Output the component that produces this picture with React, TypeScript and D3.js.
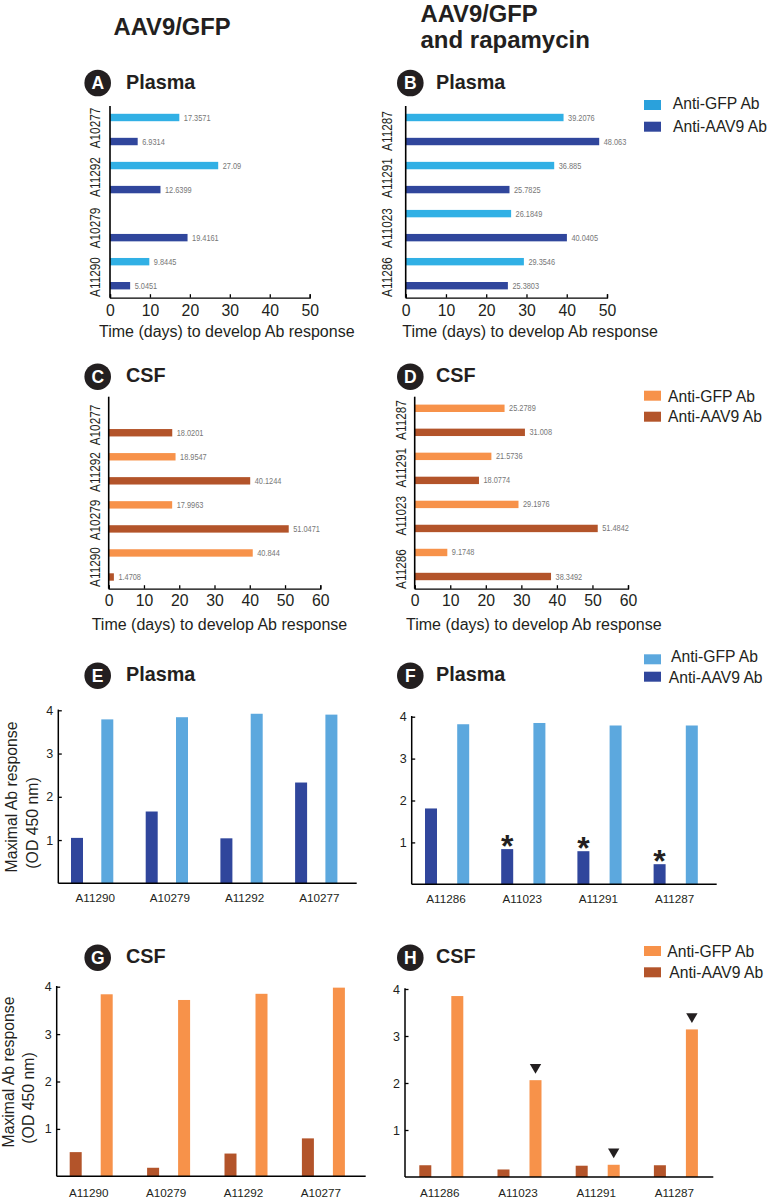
import { useEffect, useRef } from 'react'
import * as d3 from 'd3'

const FONT = '"Liberation Sans", Arial, sans-serif'
const INK = '#231f20'

// Time to develop Ab response (days), top to bottom
const catsNoRapa = ['A10277', 'A11292', 'A10279', 'A11290']
const catsRapaTop = ['A11287', 'A11291', 'A11023', 'A11286']
const plasmaTimeNoRapa = [17.3571, 6.9314, 27.09, 12.6399, null, 19.4161, 9.8445, 5.0451]
const plasmaTimeNoRapaLabels = ['17.3571', '6.9314', '27.09', '12.6399', '', '19.4161', '9.8445', '5.0451']
const plasmaTimeRapa = [39.2076, 48.063, 36.885, 25.7825, 26.1849, 40.0405, 29.3546, 25.3803]
const plasmaTimeRapaLabels = ['39.2076', '48.063', '36.885', '25.7825', '26.1849', '40.0405', '29.3546', '25.3803']
const csfTimeNoRapa = [null, 18.0201, 18.9547, 40.1244, 17.9963, 51.0471, 40.844, 1.4708]
const csfTimeNoRapaLabels = ['', '18.0201', '18.9547', '40.1244', '17.9963', '51.0471', '40.844', '1.4708']
const csfTimeRapa = [25.2789, 31.008, 21.5736, 18.0774, 29.1976, 51.4842, 9.1748, 38.3492]
const csfTimeRapaLabels = ['25.2789', '31.008', '21.5736', '18.0774', '29.1976', '51.4842', '9.1748', '38.3492']

// Maximal Ab response (OD 450 nm)
const catsBarNoRapa = ['A11290', 'A10279', 'A11292', 'A10277']
const catsBarRapa = ['A11286', 'A11023', 'A11291', 'A11287']
const plasmaAavNoRapa = [1.05, 1.66, 1.04, 2.33]
const plasmaGfpNoRapa = [3.79, 3.84, 3.92, 3.9]
const plasmaAavRapa = [1.81, 0.84, 0.79, 0.48]
const plasmaGfpRapa = [3.82, 3.85, 3.79, 3.79]
const csfAavNoRapa = [0.51, 0.18, 0.48, 0.8]
const csfGfpNoRapa = [3.84, 3.72, 3.85, 3.98]
const csfAavRapa = [0.25, 0.16, 0.24, 0.25]
const csfGfpRapa = [3.85, 2.06, 0.26, 3.14]

const starredF = ['A11023', 'A11291', 'A11287']
const markedH = ['A11023', 'A11291', 'A11287']

const BLUE_LIGHT = '#31b0e5'
const BLUE_DARK = '#30469c'
const BLUE_SOFT = '#5ca8de'
const ORANGE = '#f7924a'
const BROWN = '#b3542a'

type Sel = d3.Selection<SVGGElement, unknown, null, undefined>

function header(svg: Sel, letter: string, title: string, cx: number, cy: number, tx: number, ty: number) {
  svg.append('circle').attr('cx', cx).attr('cy', cy).attr('r', 13.3).attr('fill', INK)
  svg.append('text').attr('x', cx).attr('y', cy + 6.2).attr('text-anchor', 'middle')
    .attr('font-size', 17.5).attr('font-weight', 700).attr('fill', '#fff').text(letter)
  svg.append('text').attr('x', tx).attr('y', ty + 7).attr('font-size', 19.8)
    .attr('font-weight', 700).attr('fill', INK).text(title)
}

function legend(svg: Sel, x: number, rows: { label: string; color: string; y: number; tx: number; ty: number }[]) {
  rows.forEach(r => {
    svg.append('rect').attr('x', x).attr('y', r.y).attr('width', 17).attr('height', 10).attr('fill', r.color)
    svg.append('text').attr('x', r.tx).attr('y', r.ty + 5.5).attr('font-size', 15.7).attr('fill', INK).text(r.label)
  })
}

interface TimeOpts {
  cats: string[]
  values: (number | null)[]
  labels: string[]
  colors: [string, string]
  x0: number
  x1: number
  max: number
  baseline: number
  top: number
  firstY: number
  lastY: number
  catX: number
  catY: number[]
  titleX: number
  titleY: number
  tickY: number
}

function timePanel(svg: Sel, o: TimeOpts) {
  const x = d3.scaleLinear().domain([0, o.max]).range([o.x0, o.x1])
  const y = d3.scalePoint<number>().domain(d3.range(o.values.length)).range([o.firstY, o.lastY])

  o.values.forEach((v, i) => {
    if (v === null) return
    svg.append('rect').attr('x', o.x0).attr('y', y(i)! - 3.7).attr('width', x(v) - o.x0).attr('height', 7.4)
      .attr('fill', o.colors[i % 2])
    // value labels are set in a condensed face in the original
    svg.append('text').attr('transform', `translate(${x(v) + 4.5},${y(i)! + 3}) scale(0.84,1)`)
      .attr('font-size', 8.8).attr('fill', '#777').text(o.labels[i])
  })

  const axis = d3.axisBottom(x).ticks(o.max / 10).tickSizeInner(-3.5).tickSizeOuter(-3.5).tickPadding(0)
  const ax = svg.append('g').attr('transform', `translate(0,${o.baseline})`).call(axis)
  ax.attr('font-family', FONT)
  ax.selectAll('path,line').attr('stroke', '#000').attr('stroke-width', 1.3)
  ax.selectAll('text').attr('y', o.tickY - o.baseline + 5.8).attr('dy', 0)
    .attr('font-size', 15.8).attr('fill', INK)

  svg.append('line').attr('x1', o.x0).attr('x2', o.x0).attr('y1', o.top).attr('y2', o.baseline)
    .attr('stroke', '#000').attr('stroke-width', 1.6)

  o.cats.forEach((c, i) => {
    svg.append('text').attr('transform', `translate(${o.catX},${o.catY[i]}) rotate(-90) scale(1,1.2)`)
      .attr('text-anchor', 'middle').attr('font-size', 11.8).attr('fill', INK).text(c)
  })

  svg.append('text').attr('x', o.titleX).attr('y', o.titleY + 5.5).attr('font-size', 16)
    .attr('fill', INK).text('Time (days) to develop Ab response')
}

interface OdOpts {
  cats: string[]
  aav: number[]
  gfp: number[]
  aavColor: string
  gfpColor: string
  axisX: number
  axisEnd: number
  baseline: number
  top: number
  firstAav: number
  step: number
  gap: number
  labelShift: number
  labelY: number
}

function odPanel(svg: Sel, o: OdOpts) {
  const y = d3.scaleLinear().domain([0, 4]).range([o.baseline, o.top])
  const x = d3.scalePoint<string>().domain(o.cats)
    .range([o.firstAav, o.firstAav + o.step * (o.cats.length - 1)])
  const barW = 12

  o.cats.forEach((c, i) => {
    svg.append('rect').attr('x', x(c)! - barW / 2).attr('y', y(o.aav[i])).attr('width', barW)
      .attr('height', o.baseline - y(o.aav[i])).attr('fill', o.aavColor)
    svg.append('rect').attr('x', x(c)! + o.gap - barW / 2).attr('y', y(o.gfp[i])).attr('width', barW)
      .attr('height', o.baseline - y(o.gfp[i])).attr('fill', o.gfpColor)
    svg.append('text').attr('x', x(c)! + o.labelShift).attr('y', o.labelY + 4.2).attr('text-anchor', 'middle')
      .attr('font-size', 11.7).attr('fill', INK).text(c)
  })

  const axis = d3.axisLeft(y).tickValues([1, 2, 3, 4]).tickFormat(d3.format('d'))
    .tickSizeInner(-3.5).tickSizeOuter(0).tickPadding(5)
  const ax = svg.append('g').attr('transform', `translate(${o.axisX},0)`).call(axis)
  ax.attr('font-family', FONT)
  ax.select('.domain').remove()
  ax.selectAll('line').attr('stroke', '#000').attr('stroke-width', 1.3)
  ax.selectAll('text').attr('font-size', 12.5).attr('fill', INK)

  svg.append('line').attr('x1', o.axisX).attr('x2', o.axisX).attr('y1', o.top - 0.7).attr('y2', o.baseline)
    .attr('stroke', '#000').attr('stroke-width', 1.5)
  svg.append('line').attr('x1', o.axisX).attr('x2', o.axisEnd).attr('y1', o.baseline).attr('y2', o.baseline)
    .attr('stroke', '#000').attr('stroke-width', 1.5)

  return { x, y }
}

function odTitle(svg: Sel, x1: number, y1: number, x2: number, y2: number) {
  svg.append('text').attr('transform', `translate(${x1},${y1}) rotate(-90)`).attr('text-anchor', 'middle')
    .attr('font-size', 15.8).attr('fill', INK).text('Maximal Ab response')
  svg.append('text').attr('transform', `translate(${x2},${y2}) rotate(-90)`).attr('text-anchor', 'middle')
    .attr('font-size', 15.8).attr('fill', INK).text('(OD 450 nm)')
}

export default function App() {
  const svgRef = useRef<SVGSVGElement>(null)

  useEffect(() => {
    if (!svgRef.current) return
    d3.select(svgRef.current).selectAll('*').remove()
    const svg = d3.select(svgRef.current).append('g').attr('font-family', FONT) as unknown as Sel

    // Column headings
    svg.append('text').attr('x', 113.5).attr('y', 34.5).attr('font-size', 23.8).attr('font-weight', 700)
      .attr('fill', INK).text('AAV9/GFP')
    svg.append('text').attr('x', 420.5).attr('y', 21.5).attr('font-size', 23.8).attr('font-weight', 700)
      .attr('fill', INK).text('AAV9/GFP')
    svg.append('text').attr('x', 420.5).attr('y', 48).attr('font-size', 24).attr('font-weight', 700)
      .attr('fill', INK).text('and rapamycin')

    // A
    header(svg, 'A', 'Plasma', 97.7, 83, 126, 81.7)
    timePanel(svg, {
      cats: catsNoRapa, values: plasmaTimeNoRapa, labels: plasmaTimeNoRapaLabels,
      colors: [BLUE_LIGHT, BLUE_DARK], x0: 110, x1: 309.7, max: 50, baseline: 297.7, top: 106,
      firstY: 117.5, lastY: 285.7, catX: 100, catY: [128, 177, 228, 277],
      titleX: 99, titleY: 331, tickY: 310.5,
    })

    // B
    header(svg, 'B', 'Plasma', 410.3, 83, 436, 81.7)
    timePanel(svg, {
      cats: catsRapaTop, values: plasmaTimeRapa, labels: plasmaTimeRapaLabels,
      colors: [BLUE_LIGHT, BLUE_DARK], x0: 405.7, x1: 607, max: 50, baseline: 297.7, top: 106,
      firstY: 117.5, lastY: 285.7, catX: 392, catY: [131, 178, 228, 277],
      titleX: 402.3, titleY: 331, tickY: 310.5,
    })
    legend(svg, 644, [
      { label: 'Anti-GFP Ab', color: '#2aa1dc', y: 100, tx: 672.7, ty: 103 },
      { label: 'Anti-AAV9 Ab', color: BLUE_DARK, y: 121.7, tx: 673, ty: 126 },
    ])

    // C
    header(svg, 'C', 'CSF', 97.7, 376.7, 126, 375)
    timePanel(svg, {
      cats: catsNoRapa, values: csfTimeNoRapa, labels: csfTimeNoRapaLabels,
      colors: [ORANGE, BROWN], x0: 108.7, x1: 320.3, max: 60, baseline: 588.7, top: 396.7,
      firstY: 408.7, lastY: 577, catX: 100, catY: [425, 472, 520, 567],
      titleX: 91.7, titleY: 624, tickY: 600.7,
    })

    // D
    header(svg, 'D', 'CSF', 410.3, 376.7, 436, 375)
    timePanel(svg, {
      cats: catsRapaTop, values: csfTimeRapa, labels: csfTimeRapaLabels,
      colors: [ORANGE, BROWN], x0: 414.7, x1: 628, max: 60, baseline: 588.7, top: 396.7,
      firstY: 408.3, lastY: 576.5, catX: 406, catY: [420, 467.7, 515.7, 569],
      titleX: 406, titleY: 624, tickY: 600.7,
    })
    legend(svg, 644, [
      { label: 'Anti-GFP Ab', color: ORANGE, y: 390.7, tx: 668, ty: 396 },
      { label: 'Anti-AAV9 Ab', color: BROWN, y: 411.7, tx: 668, ty: 416 },
    ])

    // E
    header(svg, 'E', 'Plasma', 97.7, 675.7, 126, 674)
    odPanel(svg, {
      cats: catsBarNoRapa, aav: plasmaAavNoRapa, gfp: plasmaGfpNoRapa, aavColor: BLUE_DARK, gfpColor: BLUE_SOFT,
      axisX: 58.3, axisEnd: 356.7, baseline: 883.3, top: 710.3, firstAav: 77, step: 74.7, gap: 30.3,
      labelShift: 18.2, labelY: 898,
    })
    odTitle(svg, 17, 797, 37.5, 823)

    // F
    header(svg, 'F', 'Plasma', 410.3, 675.7, 436, 674)
    const f = odPanel(svg, {
      cats: catsBarRapa, aav: plasmaAavRapa, gfp: plasmaGfpRapa, aavColor: BLUE_DARK, gfpColor: BLUE_SOFT,
      axisX: 411.7, axisEnd: 716.7, baseline: 884.3, top: 716.7, firstAav: 431, step: 76.2, gap: 32.2,
      labelShift: 15, labelY: 899,
    })
    starredF.forEach(c => {
      const i = catsBarRapa.indexOf(c)
      svg.append('text').attr('x', f.x(c)!).attr('y', f.y(plasmaAavRapa[i]) + 8).attr('text-anchor', 'middle')
        .attr('font-size', 32).attr('font-weight', 700).attr('fill', INK).text('*')
    })
    legend(svg, 644, [
      { label: 'Anti-GFP Ab', color: BLUE_SOFT, y: 654.3, tx: 671, ty: 656 },
      { label: 'Anti-AAV9 Ab', color: BLUE_DARK, y: 671.7, tx: 668.7, ty: 677.3 },
    ])

    // G
    header(svg, 'G', 'CSF', 97.7, 957.7, 126, 956)
    odPanel(svg, {
      cats: catsBarNoRapa, aav: csfAavNoRapa, gfp: csfGfpNoRapa, aavColor: BROWN, gfpColor: ORANGE,
      axisX: 56.7, axisEnd: 365.7, baseline: 1176.3, top: 986.7, firstAav: 75.7, step: 77.4, gap: 31,
      labelShift: 13, labelY: 1192.7,
    })
    odTitle(svg, 14, 1072, 34, 1098)

    // H
    header(svg, 'H', 'CSF', 410.3, 957.7, 436, 956)
    const h = odPanel(svg, {
      cats: catsBarRapa, aav: csfAavRapa, gfp: csfGfpRapa, aavColor: BROWN, gfpColor: ORANGE,
      axisX: 405, axisEnd: 713.3, baseline: 1177, top: 989, firstAav: 425.3, step: 78.2, gap: 32,
      labelShift: 14.5, labelY: 1192.7,
    })
    const tri = d3.symbol().type(d3.symbolTriangle).size(56)
    markedH.forEach(c => {
      const i = catsBarRapa.indexOf(c)
      svg.append('path').attr('d', tri()!)
        .attr('transform', `translate(${h.x(c)! + 32},${h.y(csfGfpRapa[i]) - 13}) rotate(180)`)
        .attr('fill', INK)
    })
    legend(svg, 644, [
      { label: 'Anti-GFP Ab', color: ORANGE, y: 946, tx: 667.3, ty: 951 },
      { label: 'Anti-AAV9 Ab', color: BROWN, y: 967.3, tx: 669.3, ty: 972.3 },
    ])
  }, [])

  return (
    <svg
      ref={svgRef}
      width={771}
      height={1199}
      viewBox="0 0 771 1199"
      style={{ position: 'absolute', left: 0, top: 0, background: '#fff' }}
    />
  )
}
